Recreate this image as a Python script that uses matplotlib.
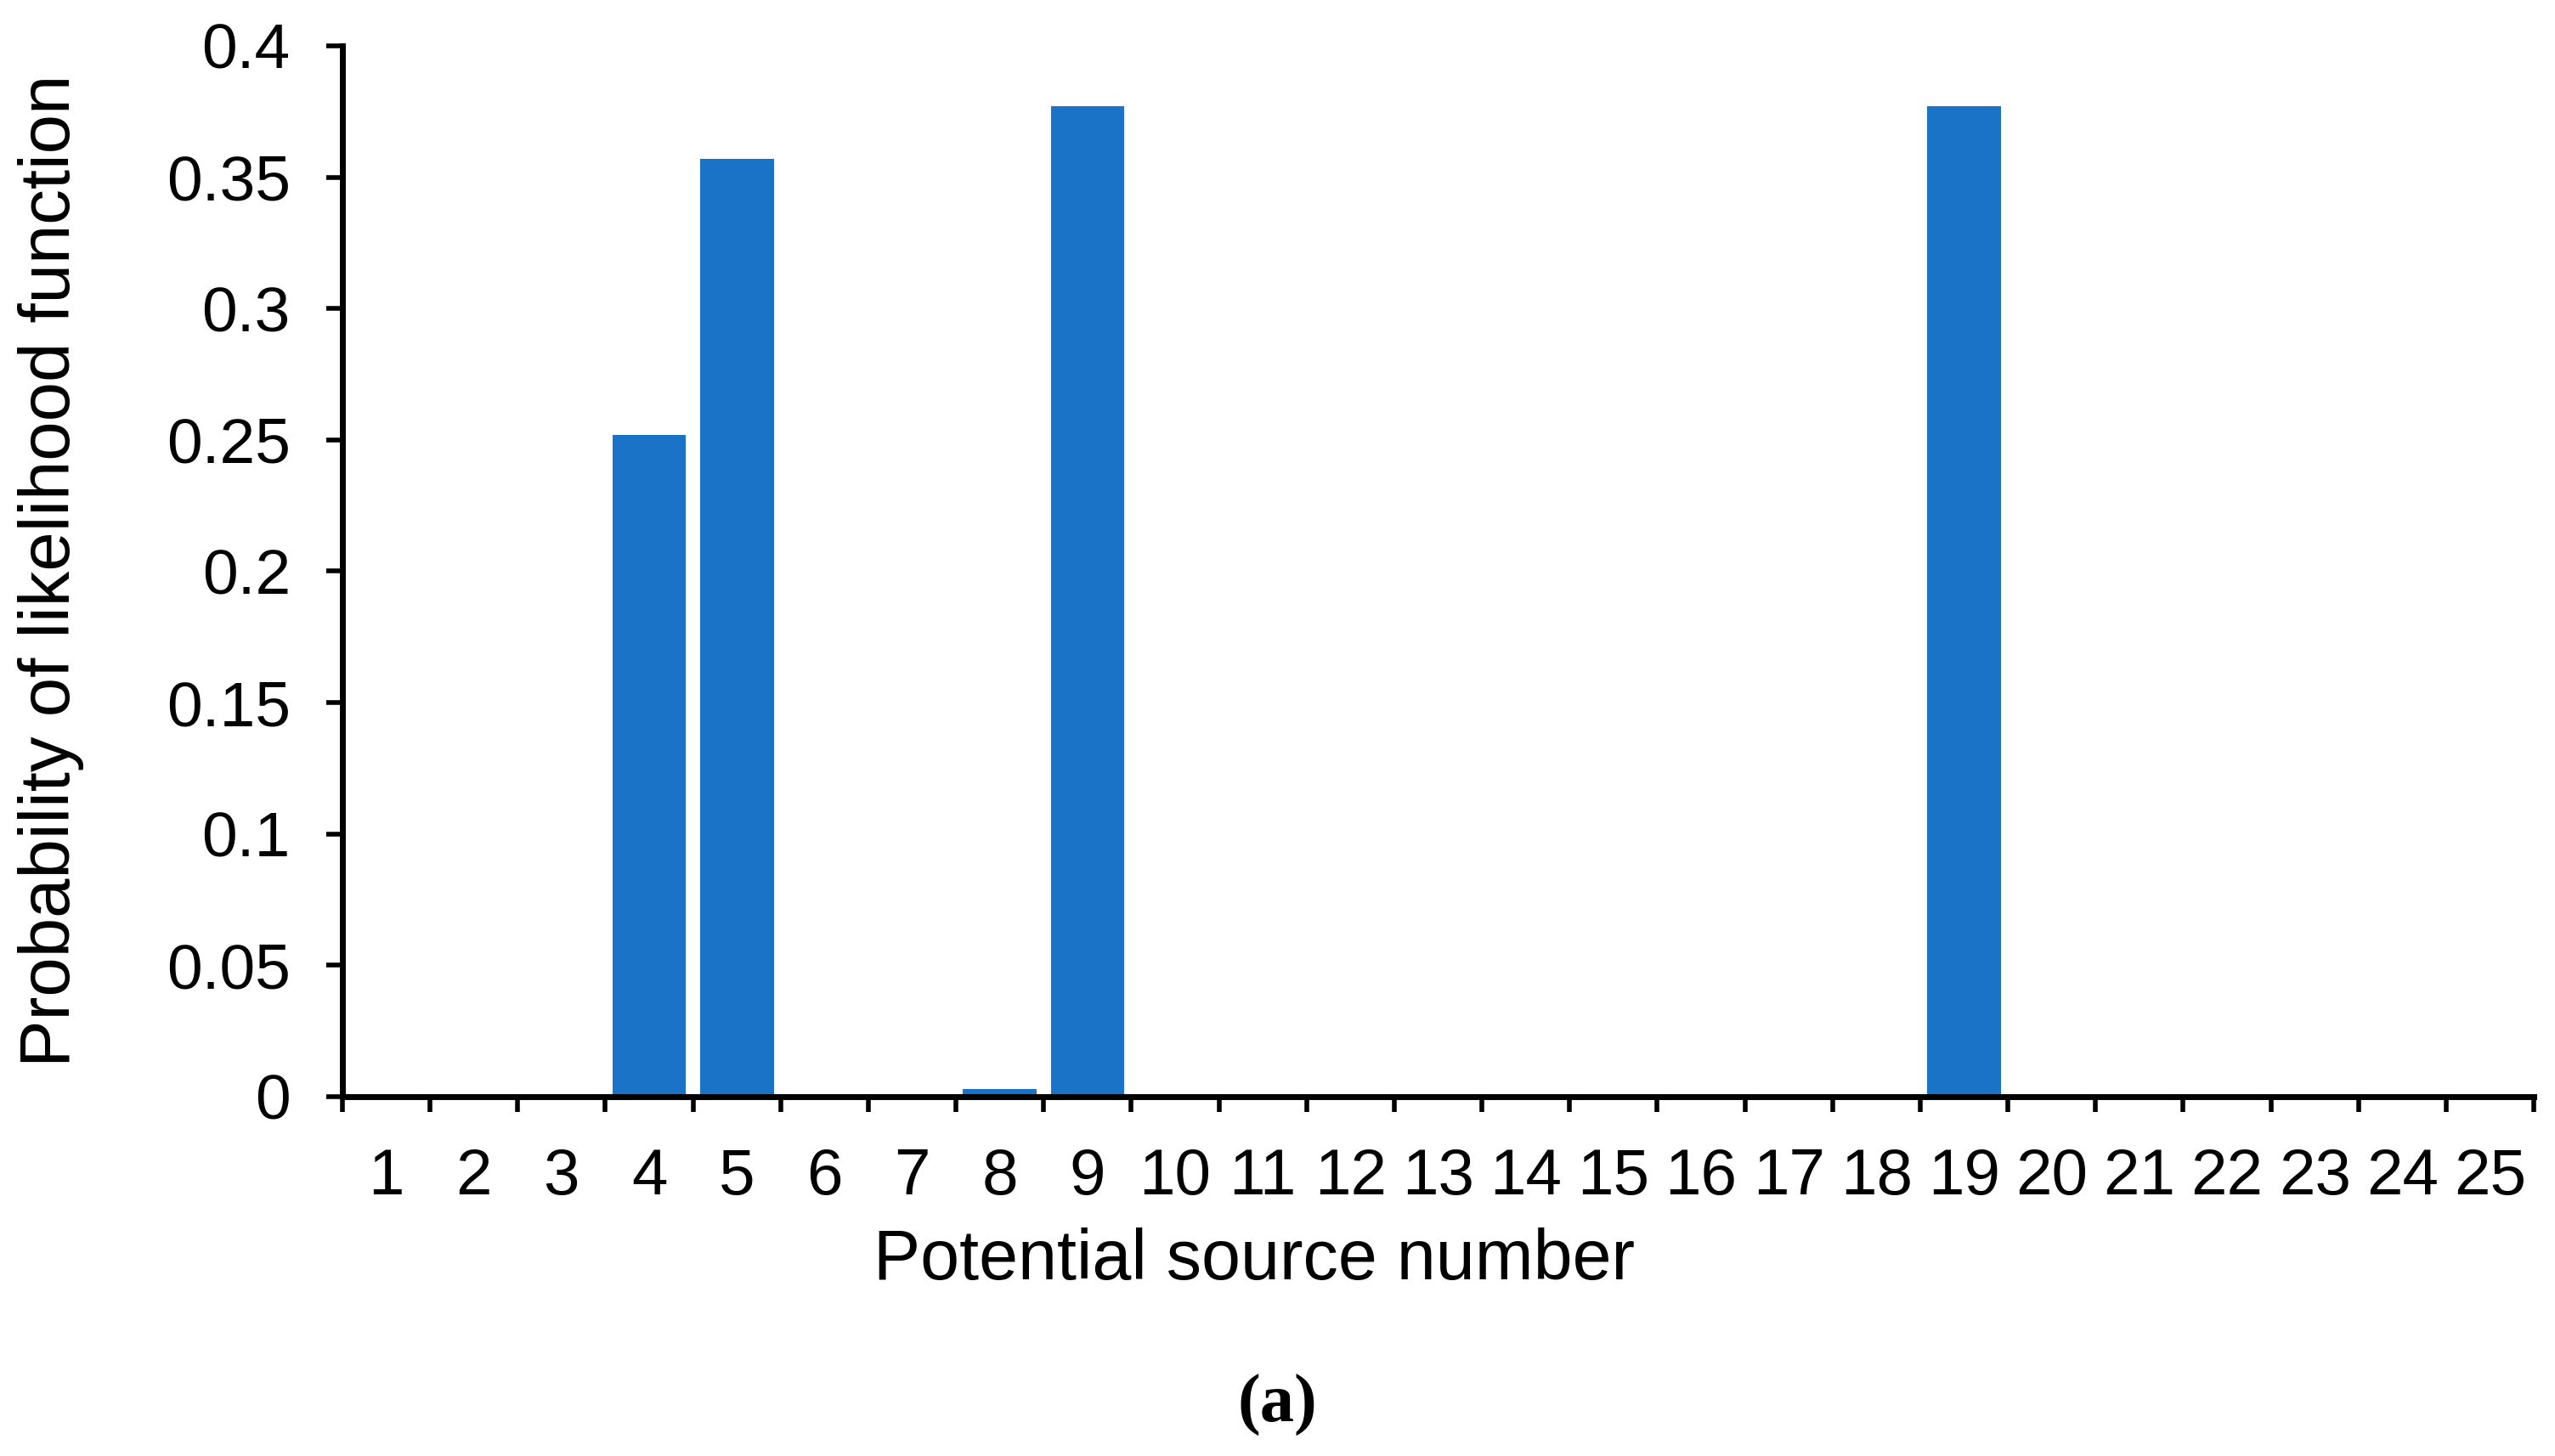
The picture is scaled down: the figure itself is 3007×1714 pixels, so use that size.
import matplotlib
matplotlib.use("Agg")
import matplotlib.pyplot as plt
from matplotlib.ticker import FixedLocator, FuncFormatter

categories = [str(i) for i in range(1, 26)]
values = [0, 0, 0, 0.252, 0.357, 0, 0, 0.003, 0.377, 0,
          0, 0, 0, 0, 0, 0, 0, 0, 0.377, 0,
          0, 0, 0, 0, 0]
y_ticks = [0, 0.05, 0.1, 0.15, 0.2, 0.25, 0.3, 0.35, 0.4]
y_tick_labels = ["0", "0.05", "0.1", "0.15", "0.2", "0.25", "0.3", "0.35", "0.4"]

plt.rcParams['font.family'] = ['Liberation Sans', 'DejaVu Sans']

fig = plt.figure(figsize=(30.07, 17.14), dpi=100)
ax = fig.add_axes([0.134, 0.2468, 0.9917 - 0.134, 0.9685 - 0.2468])

x = list(range(1, len(categories) + 1))
ax.bar(x, values, width=0.84, color='#1a73c7', zorder=1)

ax.set_xlim(0.5, len(categories) + 0.5)
ax.set_ylim(0, 0.4)

for s in ['top', 'right']:
    ax.spines[s].set_visible(False)
for s in ['left', 'bottom']:
    ax.spines[s].set_linewidth(5)
    ax.spines[s].set_color('black')
    ax.spines[s].set_zorder(3)

# major ticks at category boundaries, labels at centers
ax.xaxis.set_major_locator(FixedLocator([i + 0.5 for i in range(0, len(categories) + 1)]))
ax.xaxis.set_major_formatter(FuncFormatter(lambda v, p: ""))
ax.xaxis.set_minor_locator(FixedLocator(x))
ax.set_xticklabels(categories, minor=True)
ax.tick_params(axis='x', which='major', direction='out', length=13, width=4, color='black')
ax.tick_params(axis='x', which='minor', length=0, pad=43, labelsize=55)

ax.set_yticks(y_ticks)
ax.set_yticklabels(y_tick_labels)
ax.tick_params(axis='y', direction='out', length=14, width=4, pad=30, labelsize=54)

fig.text(0.491, 0.134, "Potential source number", ha='center', va='center', fontsize=59.5)
fig.text(0.020, 0.608, "Probability of likelihood function", ha='center', va='center',
         rotation=90, fontsize=60)
fig.text(0.5, 0.0345, "(a)", ha='center', va='center', fontsize=58,
         fontweight='bold', family=['Liberation Serif', 'DejaVu Serif'])

fig.savefig("out.png", dpi=100, facecolor='white')
